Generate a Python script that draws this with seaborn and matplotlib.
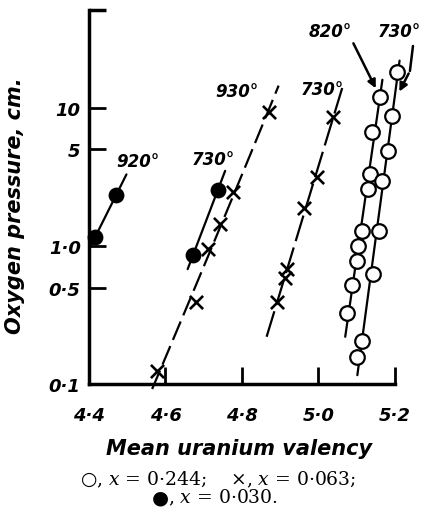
import numpy as np
import matplotlib
matplotlib.use("Agg")
import matplotlib.pyplot as plt
import seaborn as sns

# --- data (x = mean uranium valency, p = oxygen pressure, cm) ---
# open circles, x = 0.244
o820_val = [5.075, 5.088, 5.101, 5.103, 5.114, 5.129, 5.135, 5.140, 5.161]
o820_p = [0.327, 0.52, 0.78, 1.0, 1.28, 2.59, 3.32, 6.7, 12.0]
o730_val = [5.101, 5.114, 5.143, 5.158, 5.166, 5.182, 5.192, 5.205]
o730_p = [0.157, 0.205, 0.627, 1.28, 2.96, 4.88, 8.75, 18.2]
# crosses, x = 0.063
x930_val = [4.578, 4.680, 4.711, 4.743, 4.777, 4.871]
x930_p = [0.124, 0.393, 0.95, 1.44, 2.46, 9.35]
x730_val = [4.892, 4.912, 4.918, 4.962, 4.996, 5.038]
x730_p = [0.393, 0.587, 0.68, 1.88, 3.16, 8.6]
# filled circles, x = 0.030
f920_val = [4.416, 4.471]
f920_p = [1.16, 2.34]
f730_val = [4.672, 4.737]
f730_p = [0.86, 2.55]

yticks = [0.1, 0.5, 1.0, 5, 10]
ytick_labels = ["0·1", "0·5", "1·0", "5", "10"]
xticks = [4.4, 4.6, 4.8, 5.0, 5.2]
xtick_labels = ["4·4", "4·6", "4·8", "5·0", "5·2"]

sns.set_style("ticks")
plt.rcParams["font.family"] = ["DejaVu Sans"]
plt.rcParams["text.color"] = "black"
plt.rcParams["axes.labelcolor"] = "black"
plt.rcParams["xtick.color"] = "black"
plt.rcParams["ytick.color"] = "black"
plt.rcParams["mathtext.fontset"] = "dejavuserif"
hand = dict(fontweight="bold", fontstyle="italic", family="DejaVu Sans")

fig = plt.figure(figsize=(4.23, 5.10), dpi=100)
ax = fig.add_axes([0.2104, 0.245, 0.7234, 0.733])
ax.set_yscale("log")


def fit_line(vals, ps, lo, hi, deg=1, **kw):
    # hand-drawn style fit line: valency as a function of log pressure
    lp = np.log10(ps)
    coef = np.polyfit(lp, vals, deg)
    yy = np.linspace(np.log10(lo), np.log10(hi), 60)
    ax.plot(np.polyval(coef, yy), 10 ** yy, color="black", clip_on=False, **kw)


fit_line(f920_val, f920_p, 0.95, 3.3, lw=1.6)
fit_line(f730_val, f730_p, 0.68, 3.5, lw=1.6)
fit_line(x930_val, x930_p, 0.092, 14.5, deg=2, lw=1.6, ls=(0, (9, 3)))
fit_line(x730_val, x730_p, 0.22, 14.5, lw=1.6, ls=(0, (12, 3)))
fit_line(o820_val, o820_p, 0.22, 16, lw=1.6)
fit_line(o730_val, o730_p, 0.116, 22, lw=1.6)

sns.scatterplot(x=o820_val, y=o820_p, ax=ax, marker="o", s=110, facecolor="white",
                edgecolor="black", linewidth=1.6, clip_on=False, zorder=5)
sns.scatterplot(x=o730_val, y=o730_p, ax=ax, marker="o", s=110, facecolor="white",
                edgecolor="black", linewidth=1.6, clip_on=False, zorder=5)
sns.scatterplot(x=x930_val + x730_val, y=x930_p + x730_p, ax=ax, marker="x", s=90,
                color="black", linewidth=1.9, clip_on=False, zorder=5)
sns.scatterplot(x=f920_val + f730_val, y=f920_p + f730_p, ax=ax, marker="o", s=130,
                color="black", linewidth=0, clip_on=False, zorder=5)

# temperature labels
ax.text(4.528, 4.1, "920°", ha="center", va="center", fontsize=12, **hand)
ax.text(4.724, 4.25, "730°", ha="center", va="center", fontsize=12, **hand)
ax.text(4.787, 13.3, "930°", ha="center", va="center", fontsize=12, **hand)
ax.text(5.009, 13.7, "730°", ha="center", va="center", fontsize=12, **hand)
ax.text(5.030, 36, "820°", ha="center", va="center", fontsize=12, **hand)
ax.text(5.212, 36, "730°", ha="center", va="center", fontsize=12, **hand)
ax.annotate("", xy=(5.153, 13.3), xytext=(5.088, 30.6), annotation_clip=False,
            arrowprops=dict(arrowstyle="-|>", color="black", lw=1.8, mutation_scale=12))
ax.plot([5.247, 5.239], [28.1, 18.5], color="black", lw=1.8, clip_on=False)
ax.annotate("", xy=(5.208, 12.6), xytext=(5.239, 18.5), annotation_clip=False,
            arrowprops=dict(arrowstyle="-|>", color="black", lw=1.8, mutation_scale=12))

ax.set_xlim(4.4, 5.2)
ax.set_ylim(0.1, 51)
ax.set_xticks(xticks)
ax.set_xticklabels(xtick_labels, **hand, fontsize=13)
ax.set_yticks(yticks)
ax.set_yticklabels(ytick_labels, **hand, fontsize=13)
ax.yaxis.set_minor_locator(matplotlib.ticker.NullLocator())
ax.tick_params(axis="both", direction="in", length=12, width=2, color="black")
ax.tick_params(axis="x", pad=16)
ax.tick_params(axis="y", pad=6)
# short closing tick at the top of the pressure axis
ax.plot([0, 0.055], [1, 1], transform=ax.transAxes, color="black", lw=2.5,
        clip_on=False, solid_capstyle="butt")
sns.despine(ax=ax)
for s in ("left", "bottom"):
    ax.spines[s].set_linewidth(2.5)
    ax.spines[s].set_color("black")

ax.set_xlabel("Mean uranium valency", fontsize=15, **hand)
ax.xaxis.set_label_coords(0.49, -0.145)
ax.set_ylabel("Oxygen pressure, cm.", fontsize=15, **hand)
ax.yaxis.set_label_coords(-0.21, 0.48)

cap = dict(fontsize=13.5, va="center", family=["DejaVu Serif"])
fig.text(0.515, 0.06, "$\\bigcirc$, $x$ = 0·244;    ×, $x$ = 0·063;", ha="center", **cap)
fig.text(0.378, 0.024, "●", ha="center", va="center", fontsize=14, family="DejaVu Sans")
fig.text(0.398, 0.024, ", $x$ = 0·030.", ha="left", **cap)

fig.savefig("out.png", dpi=100)
